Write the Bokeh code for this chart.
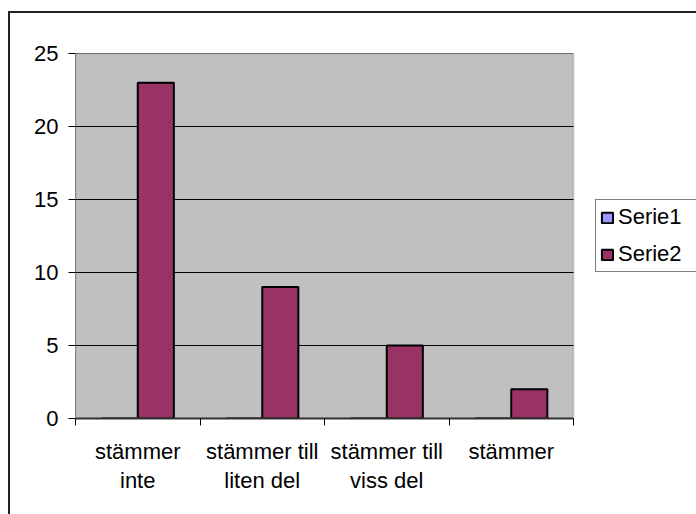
from bokeh.plotting import figure
from bokeh.models import Range1d, FixedTicker, Legend, LegendItem, BoxAnnotation
from bokeh.embed import file_html
from bokeh.resources import INLINE

categories = ["stämmer\ninte", "stämmer till\nliten del", "stämmer till\nviss del", "stämmer"]
serie1 = [0, 0, 0, 0]
serie2 = [23, 9, 5, 2]
y_ticks = [0, 5, 10, 15, 20, 25]
y_max = 25

FONT = "Liberation Sans"
FS = "22px"

W, H = 696, 514
LEFT, TOP, BOTTOM = 75, 53, 96
PLOT_RIGHT = 573          # right edge of the grey plot area (px)
n = len(categories)
x_end = n * (W - LEFT) / (PLOT_RIGHT - LEFT)   # frame spans to the window edge; legend sits inside it

p = figure(width=W, height=H, output_backend="svg", toolbar_location=None,
           x_range=Range1d(0, x_end), y_range=Range1d(0, y_max),
           min_border_left=LEFT, min_border_right=0, min_border_top=TOP, min_border_bottom=BOTTOM)

p.background_fill_color = "white"
p.border_fill_color = "white"
p.outline_line_color = None

# grey plot area
p.add_layout(BoxAnnotation(left=0, right=n, bottom=0, top=y_max, fill_color="#C0C0C0", fill_alpha=1,
                           line_color="#808080", line_width=2, level="underlay"))

# gridlines over the plot area only
p.xgrid.visible = False
p.ygrid.visible = False
p.segment(x0=[0] * len(y_ticks), x1=[n] * len(y_ticks), y0=y_ticks, y1=y_ticks, line_color="black", line_width=1)

idx = list(range(n))
x1 = [i + 0.355 for i in idx]
x2 = [i + 0.645 for i in idx]
r1 = p.vbar(x=x1, top=serie1, width=0.29, fill_color="#9999FF", line_color="black", line_width=2)
r2 = p.vbar(x=x2, top=serie2, width=0.29, fill_color="#993366", line_color="black", line_width=2)

# y axis
p.yaxis.ticker = FixedTicker(ticks=y_ticks)
p.yaxis.minor_tick_line_color = None
p.yaxis.major_tick_in = 0
p.yaxis.major_tick_out = 7
p.yaxis.major_tick_line_color = "black"
p.yaxis.axis_line_color = "#808080"
p.yaxis.axis_line_width = 1
p.yaxis.major_label_standoff = 10
p.yaxis.major_label_text_font = FONT
p.yaxis.major_label_text_font_size = FS
p.yaxis.major_label_text_color = "black"

# x axis
centers = [i + 0.5 for i in idx]
p.xaxis.bounds = (0, n)
p.xaxis.ticker = FixedTicker(ticks=centers, minor_ticks=list(range(n + 1)))
p.xaxis.major_label_overrides = {c: lab for c, lab in zip(centers, categories)}
p.xaxis.major_tick_line_color = None
p.xaxis.major_tick_in = 0
p.xaxis.major_tick_out = 0
p.xaxis.minor_tick_in = 0
p.xaxis.minor_tick_out = 7
p.xaxis.minor_tick_line_color = "black"
p.xaxis.axis_line_color = "#333333"
p.xaxis.axis_line_width = 2
p.xaxis.major_label_standoff = 13
p.xaxis.major_label_text_font = FONT
p.xaxis.major_label_text_font_size = FS
p.xaxis.major_label_text_line_height = 1.17
p.xaxis.major_label_text_color = "black"

legend = Legend(items=[LegendItem(label="Serie1", renderers=[r1]),
                       LegendItem(label="Serie2", renderers=[r2])],
                location=(520, 146))
legend.label_text_font = FONT
legend.label_text_font_size = FS
legend.label_text_color = "black"
legend.glyph_width = 14
legend.glyph_height = 13
legend.label_height = 20
legend.label_width = 76
legend.spacing = 11
legend.padding = 4
legend.margin = 0
legend.label_standoff = 4
legend.border_line_color = "black"
legend.border_line_width = 1
legend.background_fill_color = "white"
legend.background_fill_alpha = 1
p.add_layout(legend, "center")

# outer chart border (left/top visible, rest cropped by the window)
p.styles = {"position": "relative"}
p.stylesheets = [":host::after { content: ''; position: absolute; left: 8px; top: 11px; right: 0; bottom: 0; "
                 "border-left: 2px solid #222; border-top: 2px solid #222; pointer-events: none; z-index: 10; }"]

open("out.html", "w").write(file_html(p, INLINE))
